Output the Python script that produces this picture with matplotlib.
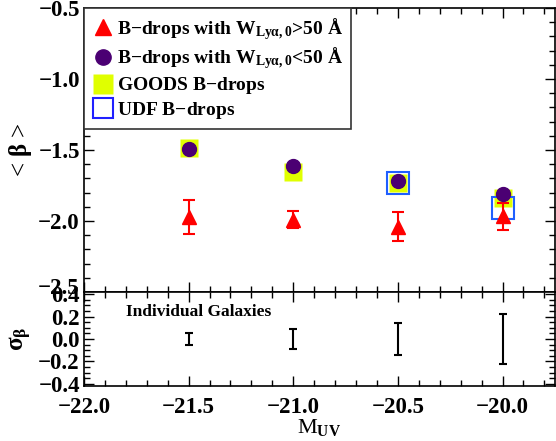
import matplotlib
matplotlib.use("Agg")
import matplotlib.pyplot as plt
import matplotlib.transforms as mtransforms
from matplotlib.lines import Line2D
from matplotlib.ticker import MultipleLocator

plt.rcParams['font.family'] = ['Liberation Serif', 'DejaVu Serif']
plt.rcParams['font.weight'] = 'bold'
plt.rcParams['mathtext.fontset'] = 'custom'
plt.rcParams['mathtext.rm'] = 'Liberation Serif:bold'
plt.rcParams['mathtext.it'] = 'Liberation Serif:bold'
plt.rcParams['mathtext.bf'] = 'Liberation Serif:bold'

# magnitude bins
muv = [-21.5, -21.0, -20.5, -20.0]

# B-drops with W > 50 A
beta_hi = [-1.97, -1.99, -2.04, -1.965]
beta_hi_err = [0.12, 0.06, 0.10, 0.095]

# B-drops with W < 50 A
beta_lo = [-1.495, -1.61, -1.718, -1.808]

# GOODS and UDF B-drops
goods_muv = [-21.5, -21.0, -20.5, -20.0]
goods_beta = [-1.488, -1.653, -1.73, -1.84]
udf_muv = [-20.5, -20.0]
udf_beta = [-1.73, -1.907]

# scatter of individual galaxies
sigma_beta = [0.058, 0.09, 0.14, 0.227]

red = '#ff0000'
purple = '#4b0073'
yellow = '#e0ff00'
blue = '#1f5fff'

fig = plt.figure(figsize=(5.56, 4.41), dpi=100)
ax1 = fig.add_axes([0.151, 0.3379, 0.847, 0.644])
ax2 = fig.add_axes([0.151, 0.1247, 0.847, 0.2132], sharex=ax1)

ax1.plot(goods_muv, goods_beta, 's', color=yellow, ms=13.5, mec='none', zorder=2)
ax1.plot(udf_muv, udf_beta, 's', mfc='none', mec=blue, mew=1.5, ms=16, zorder=3)
ax1.errorbar(muv, beta_hi, yerr=beta_hi_err, fmt='^', color=red, ms=10,
             elinewidth=1.5, capsize=4, capthick=1.5, zorder=4)
ax1.plot(muv, beta_lo, 'o', color=purple, ms=10, zorder=5)

handles = [
    Line2D([], [], ls='none', marker='^', color=red, ms=11),
    Line2D([], [], ls='none', marker='o', color=purple, ms=11),
    Line2D([], [], ls='none', marker='s', color=yellow, mec='none', ms=14),
    Line2D([], [], ls='none', marker='s', mfc='none', mec='#2020ff', mew=1.5, ms=14),
]
labels = [
    r'B$-$drops with W$_{\mathrm{Ly\alpha,0}}$>50 Å',
    r'B$-$drops with W$_{\mathrm{Ly\alpha,0}}$<50 Å',
    'GOODS B$-$drops',
    'UDF B$-$drops',
]
leg = ax1.legend(handles, labels, loc='upper left',
                 borderaxespad=0, fancybox=False, edgecolor='#333333',
                 fontsize=14, handletextpad=0.1, handlelength=1.2,
                 labelspacing=0.2, borderpad=0.4, framealpha=1)
leg.get_frame().set_linewidth(1.2)

ax1.set_xlim(-22.0, -19.75)
ax1.set_ylim(-2.5, -0.5)
ax1.yaxis.set_major_locator(MultipleLocator(0.5))
ax1.yaxis.set_minor_locator(MultipleLocator(0.1))
ax1.set_ylabel(r'< $\beta$ >', fontsize=18)
plt.setp(ax1.get_xticklabels(), visible=False)

ax2.errorbar(muv, [0] * len(muv), yerr=sigma_beta, fmt='none', ecolor='black',
             elinewidth=1.5, capsize=3, capthick=1.5)
ax2.text(-21.80, 0.24, 'Individual Galaxies', fontsize=12.5, va='center')
ax2.set_ylim(-0.42, 0.42)
ax2.yaxis.set_major_locator(MultipleLocator(0.2))
ax2.yaxis.set_minor_locator(MultipleLocator(0.05))
ax2.xaxis.set_major_locator(MultipleLocator(0.5))
ax2.xaxis.set_minor_locator(MultipleLocator(0.1))
ax2.set_xlabel(r'M$_{\mathrm{UV}}$', fontsize=16, labelpad=-1)
ax2.set_ylabel(r'$\sigma_\beta$', fontsize=18)

for ax in (ax1, ax2):
    ax.tick_params(which='both', direction='in', top=True, right=True,
                   labelsize=16.5, width=1)
    ax.tick_params(which='major', length=7, pad=3)
    ax.tick_params(which='minor', length=4)
    for s in ax.spines.values():
        s.set_linewidth(1.2)
ax2.tick_params(axis='x', which='major', pad=8)

# nudge the lowest label of the top panel upward, as in the original
fig.canvas.draw()
lift = mtransforms.ScaledTranslation(0, 4 / 72, fig.dpi_scale_trans)
for lbl in ax1.get_yticklabels():
    if lbl.get_position()[1] == -2.5:
        lbl.set_transform(lbl.get_transform() + lift)

ax1.yaxis.set_label_coords(-0.107, 0.5)
ax2.yaxis.set_label_coords(-0.107, 0.5)

fig.savefig('out.png', dpi=100)
